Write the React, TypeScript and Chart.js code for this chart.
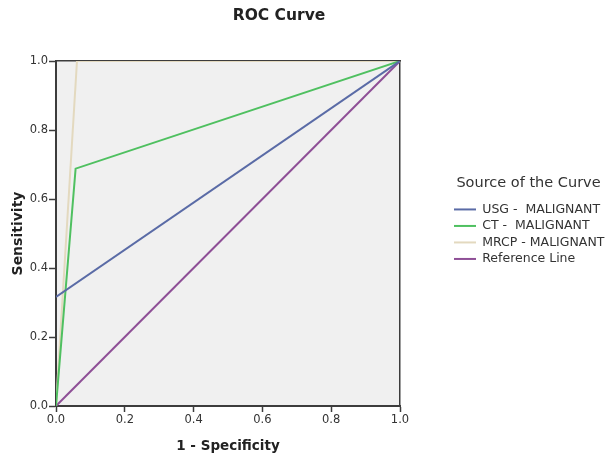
import React, { useEffect, useRef } from "react";
import { Chart, registerables } from "chart.js";

Chart.register(...registerables);

const chartTitle = "ROC Curve";
const xTitle = "1 - Specificity";
const yTitle = "Sensitivity";
const legendTitle = "Source of the Curve";

const seriesLabels = ["USG -  MALIGNANT", "CT -  MALIGNANT", "MRCP - MALIGNANT", "Reference Line"];
const seriesColors = ["#5a6ba6", "#4fc060", "#e3d9bf", "#8e4f96"];

const usgX = [0, 1];
const usgY = [0.316, 1];
const ctX = [0, 0.057, 1];
const ctY = [0, 0.688, 1];
const mrcpX = [0, 0.061, 1];
const mrcpY = [0, 1.0, 1];
const refX = [0, 1];
const refY = [0, 1];

const tickValues = [0, 0.2, 0.4, 0.6, 0.8, 1.0];

const FONT = "'DejaVu Sans', sans-serif";
const AXIS = "#3c3c3c";

function pts(xs: number[], ys: number[]) {
  return xs.map((x, i) => ({ x, y: ys[i] }));
}

export default function App() {
  const ref = useRef<HTMLCanvasElement | null>(null);

  useEffect(() => {
    if (!ref.current) return;
    const series = [
      pts(usgX, usgY),
      pts(ctX, ctY),
      pts(mrcpX, mrcpY),
      pts(refX, refY),
    ];
    const bgPlugin = {
      id: "plotBg",
      beforeDraw(chart: any) {
        const { ctx, chartArea: a } = chart;
        ctx.save();
        ctx.fillStyle = "#f0f0f0";
        ctx.fillRect(a.left, a.top, a.right - a.left, a.bottom - a.top);
        ctx.restore();
      },
      afterDraw(chart: any) {
        const { ctx } = chart;
        ctx.save();
        ctx.font = `bold 15.5px ${FONT}`;
        ctx.fillStyle = "#222";
        ctx.textAlign = "center";
        ctx.textBaseline = "middle";
        ctx.fillText(chartTitle, 279, 16);
        ctx.restore();
      },
    };
    const chart = new Chart(ref.current, {
      type: "scatter",
      data: {
        datasets: series.map((d, i) => ({
          label: seriesLabels[i],
          data: d,
          showLine: true,
          borderColor: seriesColors[i],
          backgroundColor: seriesColors[i],
          borderWidth: 2,
          pointRadius: 0,
          pointHoverRadius: 0,
          xAxisID: "x",
          yAxisID: "y",
        })),
      },
      options: {
        animation: false,
        responsive: false,
        devicePixelRatio: 1,
        layout: { padding: { top: 61, left: 0, right: 0, bottom: 0 } },
        plugins: {
          title: { display: false },
          tooltip: { enabled: false },
          legend: {
            display: true,
            position: "right",
            align: "start",
            maxWidth: 157,
            title: {
              display: true,
              text: legendTitle,
              color: "#333",
              font: { family: FONT, size: 14.5 },
              padding: { top: 115, bottom: 5.8 },
            },
            labels: {
              usePointStyle: true,
              pointStyle: "line",
              pointStyleWidth: 22,
              padding: 4,
              color: "#333",
              font: { family: FONT, size: 12.5 },
            },
          },
        },
        scales: {
          x: {
            type: "linear",
            position: "bottom",
            z: 1,
            min: 0,
            max: 1,
            afterBuildTicks(s: any) {
              s.ticks = tickValues.map((v) => ({ value: v }));
            },
            afterFit(s: any) {
              s.height = 52;
            },
            ticks: {
              autoSkip: false,
              maxRotation: 0,
              padding: 1,
              color: "#333",
              font: { family: FONT, size: 11.5 },
              callback: (v: any) => Number(v).toFixed(1),
            },
            grid: {
              display: true,
              drawOnChartArea: false,
              drawTicks: true,
              tickLength: 6,
              tickWidth: 1.5,
              color: AXIS,
            },
            border: { display: true, color: AXIS, width: 2 },
            title: {
              display: true,
              text: xTitle,
              color: "#222",
              font: { family: FONT, size: 13.5, weight: "bold" },
              padding: { top: 11.6, bottom: 3.4 },
            },
          },
          y: {
            type: "linear",
            position: "left",
            z: 1,
            min: 0,
            max: 1,
            afterBuildTicks(s: any) {
              s.ticks = tickValues.map((v) => ({ value: v }));
            },
            afterFit(s: any) {
              s.width = 56;
            },
            ticks: {
              autoSkip: false,
              padding: 1,
              color: "#333",
              font: { family: FONT, size: 11.5 },
              callback: (v: any) => Number(v).toFixed(1),
            },
            grid: {
              display: true,
              drawOnChartArea: false,
              drawTicks: true,
              tickLength: 7,
              tickWidth: 1.5,
              color: AXIS,
            },
            border: { display: true, color: AXIS, width: 2 },
            title: {
              display: true,
              text: yTitle,
              color: "#222",
              font: { family: FONT, size: 14, weight: "bold" },
              padding: { top: 9.6, bottom: 3 },
            },
          },
          x2: {
            type: "linear",
            position: "top",
            z: 1,
            min: 0,
            max: 1,
            ticks: { display: false },
            grid: { display: false, drawTicks: false },
            border: { display: true, color: AXIS, width: 1.5 },
            afterFit(s: any) {
              s.height = 0;
            },
          },
          y2: {
            type: "linear",
            position: "right",
            z: 1,
            min: 0,
            max: 1,
            ticks: { display: false },
            grid: { display: false, drawTicks: false },
            border: { display: true, color: AXIS, width: 1.5 },
            afterFit(s: any) {
              s.width = 50;
            },
          },
        },
      } as any,
      plugins: [bgPlugin],
    });
    return () => chart.destroy();
  }, []);

  return (
    <div style={{ position: "fixed", left: 0, top: 0, width: 607, height: 458, background: "#fff" }}>
      <canvas ref={ref} width={607} height={458} style={{ display: "block" }} />
    </div>
  );
}
